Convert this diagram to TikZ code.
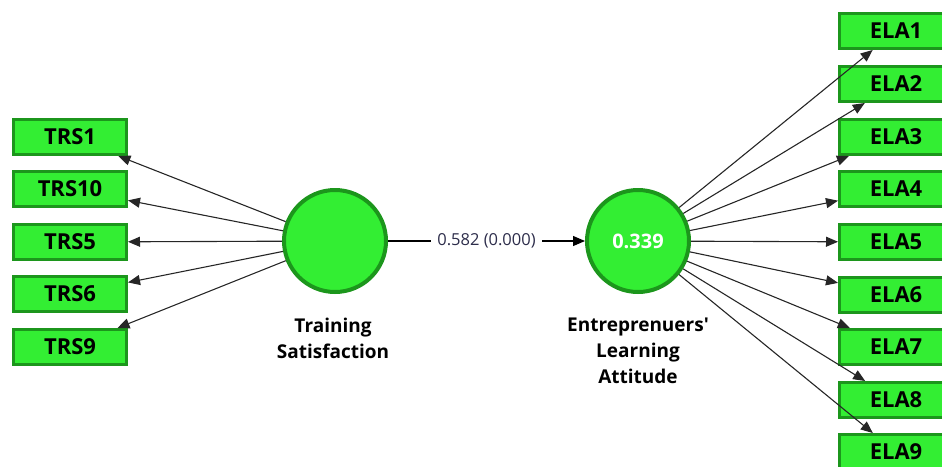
\documentclass[tikz,border=0pt]{standalone}
\usepackage{fontspec}
\setmainfont{Open Sans}
\usetikzlibrary{arrows.meta}
\definecolor{lvfill}{RGB}{51,238,51}
\definecolor{lvline}{RGB}{28,150,28}
\definecolor{pathtext}{RGB}{45,45,75}
\begin{document}
\begin{tikzpicture}[x=1pt, y=-1pt,
  item/.style={draw=lvline, fill=lvfill, line width=3pt, minimum width=113pt, minimum height=35pt,
    inner sep=0pt, font=\fontsize{22}{23}\selectfont\bfseries},
  latent/.style={circle, draw=lvline, fill=lvfill, line width=4pt, minimum size=102pt, inner sep=0pt},
  caption/.style={align=center, font=\fontsize{19}{26}\selectfont\bfseries},
  load/.style={draw=black!85, line width=1.1pt, -{Triangle[length=12pt, width=10pt]}}]
\useasboundingbox (0,0) rectangle (942,466);

% indicators of training satisfaction
\node[item] (trs1)  at (70, 137) {TRS1};
\node[item] (trs10) at (70, 189) {TRS10};
\node[item] (trs5)  at (70, 242) {TRS5};
\node[item] (trs6)  at (70, 294) {TRS6};
\node[item] (trs9)  at (70, 347) {TRS9};

% indicators of learning attitude
\node[item] (ela1) at (896,  31) {ELA1};
\node[item] (ela2) at (896,  84) {ELA2};
\node[item] (ela3) at (896, 137) {ELA3};
\node[item] (ela4) at (896, 189) {ELA4};
\node[item] (ela5) at (896, 242) {ELA5};
\node[item] (ela6) at (896, 295) {ELA6};
\node[item] (ela7) at (896, 347) {ELA7};
\node[item] (ela8) at (896, 400) {ELA8};
\node[item] (ela9) at (896, 452) {ELA9};

\node[latent] (ts) at (335, 241) {};
\node[caption] (tslabel) at (333, 338) {Training\\Satisfaction};
\node[latent, text=white, font=\fontsize{20}{21}\selectfont\bfseries] (ela) at (638, 241) {0.339};
\node[caption] (elalabel) at (638, 351) {Entreprenuers\textquotesingle\\Learning\\Attitude};

\draw[load] (ts) -- (trs1);
\draw[load] (ts) -- (trs10);
\draw[load] (ts) -- (trs5);
\draw[load] (ts) -- (trs6);
\draw[load] (ts) -- (trs9);

\draw[load] (ela) -- (ela1);
\draw[load] (ela) -- (ela2);
\draw[load] (ela) -- (ela3);
\draw[load] (ela) -- (ela4);
\draw[load] (ela) -- (ela5);
\draw[load] (ela) -- (ela6);
\draw[load] (ela) -- (ela7);
\draw[load] (ela) -- (ela8);
\draw[load] (ela) -- (ela9);

%
\draw[load, black] (ts) -- node[fill=white, inner xsep=6pt, inner ysep=2pt, text=pathtext, font=\fontsize{16.5}{17}\selectfont]{0.582 (0.000)} (ela);
\end{tikzpicture}
\end{document}
